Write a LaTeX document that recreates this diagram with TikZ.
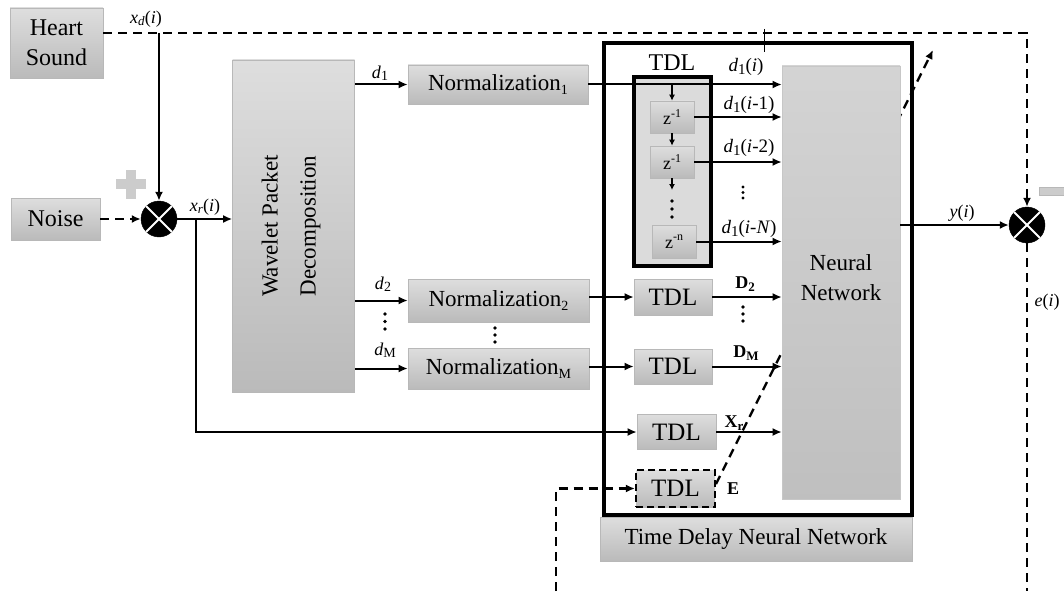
\documentclass[tikz,border=0pt]{standalone}
\usepackage{fontspec}
\setmainfont{Liberation Serif}
\usetikzlibrary{arrows.meta}
\newcommand\lsub[2]{\raisebox{-0.3ex}{\fontsize{#1}{#1}\selectfont #2}}
\newcommand\lsup[2]{\raisebox{0.9ex}{\fontsize{#1}{#1}\selectfont #2}}
\begin{document}
\begin{tikzpicture}[x=1pt,y=-1pt,
 every node/.style={font=\fontsize{23}{30}\selectfont},
 gbox/.style={draw=black!28, line width=0.6pt, top color=black!13, bottom color=black!27, inner sep=0pt, align=center},
 lab/.style={font=\fontsize{18}{20}\selectfont, inner sep=0pt},
 blab/.style={font=\fontsize{18}{20}\selectfont\bfseries, inner sep=0pt},
 arr/.style={line width=2pt, -{Latex[length=9pt,width=8pt]}},
 arrs/.style={line width=2pt, -{Latex[length=6pt,width=6pt]}},
 dsh/.style={line width=2.4pt, dash pattern=on 9pt off 6pt},
 dsharr/.style={line width=2.4pt, dash pattern=on 9pt off 6pt, -{Latex[length=9pt,width=8pt]}},
 mixer/.style={circle, fill=black, draw=black, minimum size=36pt, inner sep=0pt},
 dotc/.style={circle, fill=black, inner sep=0pt, minimum size=3.8pt},
 signbar/.style={fill=black!20, inner sep=0pt}
]
\useasboundingbox (0,0) rectangle (1064,591);

% ---------- sources ----------
\node[gbox, minimum width=93, minimum height=70, font=\fontsize{24}{30}\selectfont] (heart) at (56.5,43) {Heart\\Sound};
\node[gbox, minimum width=89, minimum height=42, font=\fontsize{24}{30}\selectfont] (noise) at (55.5,219) {Noise};

% left mixer and plus sign
\node[mixer] (mixL) at (159,219) {};
\draw[white, line width=2pt] (mixL.north east) -- (mixL.south west) (mixL.north west) -- (mixL.south east);
\node[signbar, minimum width=30, minimum height=10] (plusH) at (131,184) {};
\node[signbar, minimum width=10, minimum height=29] (plusV) at (131,184) {};

% wavelet packet decomposition
\node[gbox, minimum width=122, minimum height=332] (wpd) at (293.5,226) {};
\node[rotate=90, align=center, font=\fontsize{23}{38}\selectfont] (wpdt) at (291,226) {Wavelet Packet\\Decomposition};

% normalization boxes
\node[gbox, minimum width=180, minimum height=39] (n1) at (498,84.5) {Normalization\lsub{14}{1}};
\node[gbox, minimum width=181, minimum height=43] (n2) at (498.5,300.5) {Normalization\lsub{14}{2}};
\node[gbox, minimum width=181, minimum height=41] (nM) at (498.5,368.5) {Normalization\lsub{14}{M}};

% ---------- TDNN ----------
\node[draw, line width=4pt, minimum width=308, minimum height=472, inner sep=0pt] (tdnn) at (758,279) {};
\node[gbox, minimum width=312, minimum height=44] (tdnnl) at (756,539) {Time Delay Neural Network};

% adaptation (diagonal) dashed arrow, behind the network box
\coordinate (dgA) at (716,484);
\coordinate (dgB) at (933,50);
\draw[dsharr] (dgA) -- (dgB);

\node[gbox, draw=black!22, top color=black!17, bottom color=black!25, minimum width=118, minimum height=433] (nn) at (841,282.5) {};
\node[align=center] (nnt) at (841,278) {Neural\\Network};

% inner TDL of d1
\node[draw, line width=4pt, fill=black!14, minimum width=77, minimum height=189, inner sep=0pt] (tdlbig) at (672.5,171.5) {};
\node[font=\fontsize{24}{26}\selectfont, inner sep=0pt] (tdlt) at (672,63) {TDL};
\node[gbox, minimum width=44, minimum height=32, font=\fontsize{18}{18}\selectfont] (z1) at (672,117) {z\lsup{12}{-1}};
\node[gbox, minimum width=44, minimum height=32, font=\fontsize{18}{18}\selectfont] (z2) at (672,162) {z\lsup{12}{-1}};
\node[gbox, minimum width=44, minimum height=33, font=\fontsize{18}{18}\selectfont] (zn) at (674,241.5) {z\lsup{12}{-n}};
\coordinate (zd) at (672,190);
\node[dotc] (zdot1) at (672,201) {};
\node[dotc] (zdot2) at (672,209) {};
\node[dotc] (zdot3) at (672,217) {};

% other TDL boxes
\node[gbox, minimum width=78, minimum height=36, font=\fontsize{25}{26}\selectfont] (tdl2) at (673,297) {TDL};
\node[gbox, minimum width=78, minimum height=35, font=\fontsize{25}{26}\selectfont] (tdlM) at (673,366.5) {TDL};
\node[gbox, minimum width=79, minimum height=35, font=\fontsize{25}{26}\selectfont] (tdlX) at (676.5,432) {TDL};
\node[gbox, draw=black, line width=2.2pt, dash pattern=on 7pt off 4pt, minimum width=79, minimum height=37, font=\fontsize{25}{26}\selectfont] (tdlE) at (675.5,488.5) {TDL};

% right mixer and minus sign
\node[mixer] (mixR) at (1027,225) {};
\draw[white, line width=2pt] (mixR.north east) -- (mixR.south west) (mixR.north west) -- (mixR.south east);
\node[signbar, draw=black!28, line width=0.5pt, minimum width=32, minimum height=8] (minus) at (1055,191) {};

% ---------- connectors ----------
\coordinate (tr) at (1027,33);
\draw[dsharr] (heart.east |- tr) -- (tr) -- (mixR.north);
\draw[arr] (mixL |- tr) -- (mixL.north);
\node[lab] (xdl) at (146,19) {\textit{x}\lsub{13}{\textit{d}}(\textit{i})};
\draw[dsharr] (noise.east) -- (mixL.west);

\draw[arr] (mixL.east) -- (wpd.west |- mixL.east);
\node[lab] (xrl) at (205,207) {\textit{x}\lsub{13}{\textit{r}}(\textit{i})};
\coordinate (br) at (196,219);
\draw[arr] (br) |- (tdlX.west);

\draw[arr] (wpd.east |- n1.west) -- (n1.west);
\node[lab] (d1l) at (380,73) {\textit{d}\lsub{14}{1}};
\draw[arr] (wpd.east |- n2.west) -- (n2.west);
\node[lab] (d2l) at (383,284) {\textit{d}\lsub{14}{2}};
\draw[arr] (wpd.east |- nM.west) -- (nM.west);
\node[lab] (dMl) at (385,350) {\textit{d}\lsub{14}{M}};
\node[dotc] (ddot1) at (385,314) {};
\node[dotc] (ddot2) at (385,321.5) {};
\node[dotc] (ddot3) at (385,329) {};
\node[dotc] (ndot1) at (495,328) {};
\node[dotc] (ndot2) at (495,335) {};
\node[dotc] (ndot3) at (495,342) {};

% d1 into TDL and network
\draw[arr] (n1.east) -- (nn.west |- n1.east);
\node[lab, font=\fontsize{19}{20}\selectfont] (l0) at (746,67) {\textit{d}\lsub{15}{1}(\textit{i})};
\draw[arrs] (z1.north |- n1.east) -- (z1.north);
\draw[arrs] (z1.south) -- (z2.north);
\draw[arrs] (z2.south) -- (zd);
\draw[arr] (z1.east) -- (nn.west |- z1.east);
\node[lab, font=\fontsize{19}{20}\selectfont] (l1) at (749,105) {\textit{d}\lsub{15}{1}(\textit{i}-1)};
\draw[arr] (z2.east) -- (nn.west |- z2.east);
\node[lab, font=\fontsize{19}{20}\selectfont] (l2) at (749,148) {\textit{d}\lsub{15}{1}(\textit{i}-2)};
\node[dotc, minimum size=3.4pt] (odot1) at (743,187) {};
\node[dotc, minimum size=3.4pt] (odot2) at (743,192.5) {};
\node[dotc, minimum size=3.4pt] (odot3) at (743,198) {};
\draw[arr] (zn.east) -- (nn.west |- zn.east);
\node[lab, font=\fontsize{19}{20}\selectfont] (lN) at (749,229) {\textit{d}\lsub{15}{1}(\textit{i}-\textit{N})};

% other TDL connectors
\draw[arr] (n2.east |- tdl2.west) -- (tdl2.west);
\draw[arr] (tdl2.east) -- (nn.west |- tdl2.east);
\node[blab] (D2l) at (745,284) {D\lsub{13}{\textbf{2}}};
\node[dotc] (Ddot1) at (743,307) {};
\node[dotc] (Ddot2) at (743,314) {};
\node[dotc] (Ddot3) at (743,321) {};
\draw[arr] (nM.east |- tdlM.west) -- (tdlM.west);
\draw[arr] (tdlM.east) -- (nn.west |- tdlM.east);
\node[blab] (DMl) at (746,353) {D\lsub{13}{\textbf{M}}};
\draw[arr] (tdlX.east) -- (nn.west |- tdlX.east);
\node[blab] (Xrl) at (734,423) {X\lsub{13}{\textbf{r}}};
\node[blab] (El) at (733,489) {E};

\coordinate (bl) at (556,591);
\draw[dsharr] (bl) |- (tdlE.west);

% output and error
\draw[arr] (nn.east |- mixR.west) -- (mixR.west);
\node[lab] (yl) at (962,213) {\textit{y}(\textit{i})};
\coordinate (br2) at (1027,591);
\draw[dsh] (mixR.south) -- (br2);
\node[lab] (el) at (1047,302) {\textit{e}(\textit{i})};

% small tick at top
\coordinate (tk1) at (764,29);
\coordinate (tk2) at (764,52);
\draw[line width=0.8pt] (tk1) -- (tk2);
\end{tikzpicture}
\end{document}
